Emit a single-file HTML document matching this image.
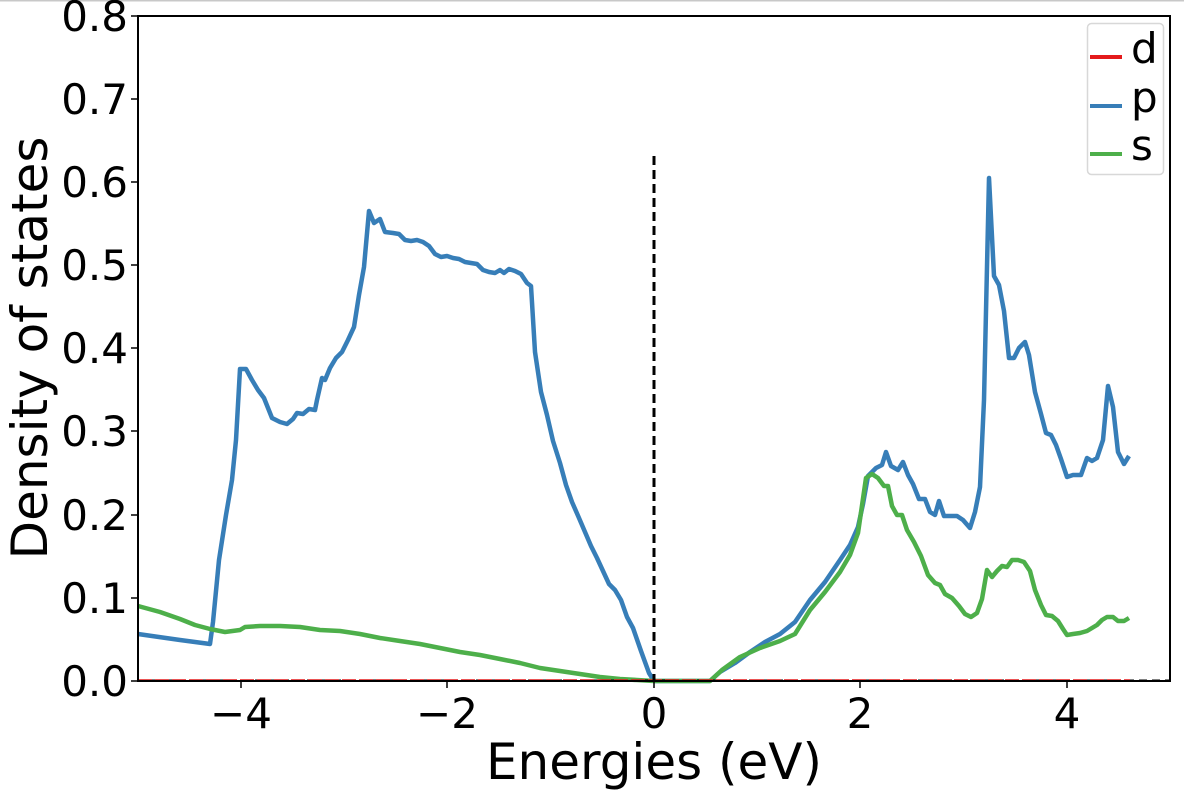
<!DOCTYPE html>
<html><head><style>body{margin:0;background:#fff}svg{display:block}</style></head><body>
<svg width="1184" height="793" xmlns="http://www.w3.org/2000/svg" font-family="DejaVu Sans, Liberation Sans, sans-serif">
<rect width="1184" height="793" fill="#fff"/>
<line x1="0" y1="0.5" x2="1184" y2="0.5" stroke="#c8c8c8" stroke-width="2"/>
<g fill="none" stroke-width="4.5" stroke-linejoin="round">
<polyline stroke="#377eb8" points="138,634 180,640 210,644 213,622 219,560 226,515 232,480 236,440 240,369 246,369 252,380 258,390 264,398 272,418 280,422 287,424 293,419 297,413 303,414 309,409 315,410 317,400 322,378 325,380 330,368 336,358 342,352 348,340 354,327 359,295 364,267 369,211 374,223 380,219 385,232 393,233 399,234 405,240 411,241 417,240 423,242 429,246 435,254 441,257 447,256 453,258 459,259 465,262 471,263 477,264 483,270 489,272 495,273 500,270 504,273 509,269 515,271 521,274 527,283 531,286 535,352 541,392 547,415 553,441 560,463 566,485 572,502 579,518 585,532 591,546 597,558 603,571 609,584 615,590 621,600 627,617 633,628 641,651 649,673 654,681 710,681 720,672 735,663 750,652 765,642 780,634 795,622 810,600 825,582 840,560 850,545 858,527 863,504 868,476 876,468 882,465 886,452 891,466 898,470 903,462 908,475 913,484 919,499 925,499 930,512 935,515 939,501 944,516 950,516 957,516 963,520 970,528 975,512 980,487 984,400 989,178 994,276 999,285 1004,311 1009,358 1014,358 1019,348 1025,342 1029,355 1035,392 1041,414 1046,433 1051,435 1056,445 1061,459 1067,477 1073,475 1081,475 1087,458 1092,461 1097,458 1103,440 1108,386 1113,407 1118,452 1124,464 1129,456"/>
<polyline stroke="#4daf4a" points="138,606 160,612 180,619 195,625 210,629 225,632 240,630 245,627 260,626 280,626 300,627 320,630 340,631 360,634 380,638 400,641 420,644 440,648 460,652 480,655 500,659 520,663 540,668 560,671 580,674 600,677 620,679 654,681 710,681 722,670 740,657 760,648 780,641 795,634 810,610 825,592 840,572 850,555 858,533 866,478 872,474 878,478 884,486 888,486 892,506 897,515 902,515 907,530 914,542 921,556 928,575 935,583 940,585 945,594 952,598 959,606 965,614 971,617 977,613 982,599 987,570 992,577 997,571 1002,566 1007,567 1012,560 1018,560 1024,562 1030,571 1035,590 1041,605 1046,615 1052,616 1058,621 1063,629 1067,635 1073,634 1080,633 1087,631 1092,628 1097,625 1102,620 1107,617 1113,617 1118,621 1124,621 1129,618"/>
</g>
<line x1="138" y1="680.5" x2="1170" y2="680.5" stroke="#000" stroke-width="2" stroke-dasharray="8,5"/>
<line x1="138" y1="680.5" x2="1130" y2="680.5" stroke="#e41a1c" stroke-width="2.5" stroke-dasharray="14,3"/>
<line x1="654" y1="156" x2="654" y2="681" stroke="#000" stroke-width="3" stroke-dasharray="9,5"/>
<rect x="138" y="16" width="1032" height="665" fill="none" stroke="#000" stroke-width="2"/>
<g stroke="#000" stroke-width="1.5">
<line x1="241" y1="681" x2="241" y2="688"/><line x1="447" y1="681" x2="447" y2="688"/><line x1="654" y1="681" x2="654" y2="688"/><line x1="860" y1="681" x2="860" y2="688"/><line x1="1067" y1="681" x2="1067" y2="688"/>
<line x1="131" y1="681" x2="138" y2="681"/><line x1="131" y1="598" x2="138" y2="598"/><line x1="131" y1="515" x2="138" y2="515"/><line x1="131" y1="431" x2="138" y2="431"/><line x1="131" y1="348" x2="138" y2="348"/><line x1="131" y1="265" x2="138" y2="265"/><line x1="131" y1="182" x2="138" y2="182"/><line x1="131" y1="99" x2="138" y2="99"/><line x1="131" y1="16" x2="138" y2="16"/>
</g>
<g font-size="42" fill="#000" text-anchor="middle">
<text x="241" y="728">−4</text><text x="447" y="728">−2</text><text x="654" y="728">0</text><text x="860" y="728">2</text><text x="1067" y="728">4</text>
</g>
<g font-size="42" fill="#000" text-anchor="end">
<text x="128" y="696">0.0</text><text x="128" y="613">0.1</text><text x="128" y="530">0.2</text><text x="128" y="446">0.3</text><text x="128" y="363">0.4</text><text x="128" y="280">0.5</text><text x="128" y="197">0.6</text><text x="128" y="114">0.7</text><text x="128" y="31">0.8</text>
</g>
<text x="654" y="779" font-size="50" text-anchor="middle">Energies (eV)</text>
<text transform="translate(47,348) rotate(-90)" font-size="50" text-anchor="middle">Density of states</text>
<rect x="1087.5" y="23.5" width="76" height="151" rx="4" fill="#fff" stroke="#d8d8d8" stroke-width="1.5"/>
<g stroke-width="4"><line x1="1090" y1="57" x2="1122" y2="57" stroke="#e41a1c"/><line x1="1090" y1="106" x2="1122" y2="106" stroke="#377eb8"/><line x1="1090" y1="154" x2="1122" y2="154" stroke="#4daf4a"/></g>
<g font-size="42" fill="#000"><text x="1131" y="63">d</text><text x="1131" y="112">p</text><text x="1131" y="160">s</text></g>
</svg>
</body></html>
